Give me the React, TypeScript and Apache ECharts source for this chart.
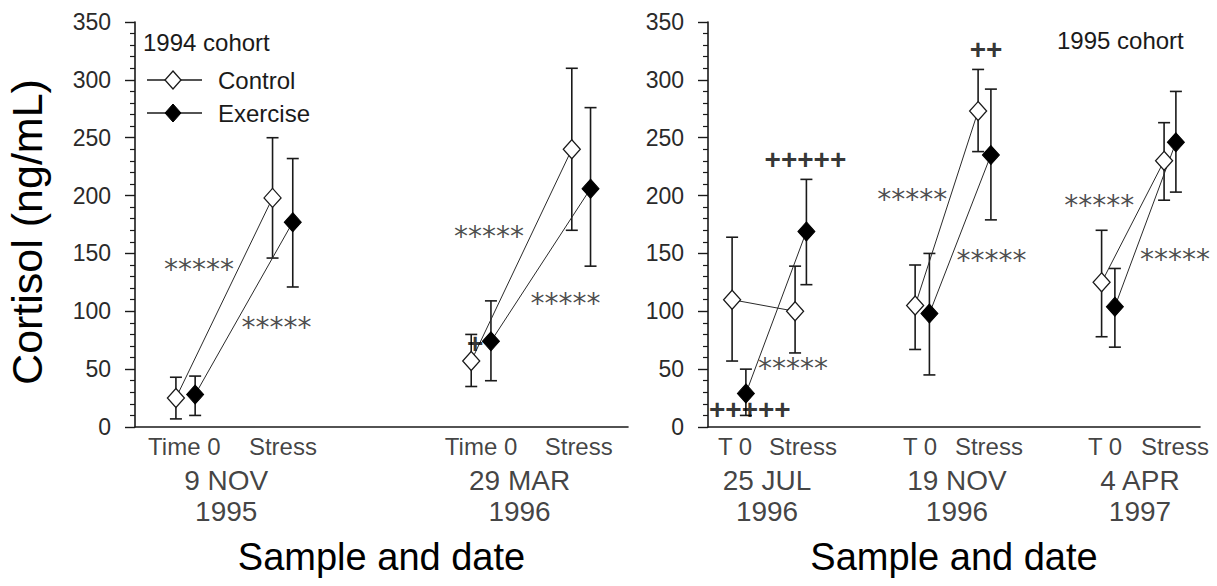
import React, { useEffect, useRef } from "react";
import * as echarts from "echarts";

// ---------- DATA ----------
// Left panel: 1994 cohort (order: G1 Time0, G1 Stress, G2 Time0, G2 Stress)
const leftControlX = [0.83, 2.79, 6.82, 8.86];
const leftExerciseX = [1.22, 3.2, 7.22, 9.24];
const leftControlMean = [25, 198, 57, 240];
const leftControlUpper = [43, 250, 80, 310];
const leftControlLower = [7, 146, 35, 170];
const leftExerciseMean = [28, 177, 74, 206];
const leftExerciseUpper = [44, 232, 109, 276];
const leftExerciseLower = [10, 121, 40, 139];

// Right panel: 1995 cohort (order: G1 T0, G1 Stress, G2 T0, G2 Stress, G3 T0, G3 Stress)
const rightControlX = [0.49, 1.77, 4.21, 5.49, 8.0, 9.27];
const rightExerciseX = [0.77, 2.0, 4.5, 5.75, 8.27, 9.51];
const rightControlMean = [110, 100, 105, 273, 125, 230];
const rightControlUpper = [164, 139, 140, 309, 170, 263];
const rightControlLower = [57, 64, 67, 238, 78, 196];
const rightExerciseMean = [29, 169, 98, 235, 104, 246];
const rightExerciseUpper = [50, 214, 150, 292, 137, 290];
const rightExerciseLower = [10, 123, 45, 179, 69, 203];

// Tick labels
const leftSampleLabels = ["Time 0", "Stress", "Time 0", "Stress"];
const leftSampleX = [1.0, 3.0, 7.02, 9.0];
const leftDateLabels = ["9 NOV\n1995", "29 MAR\n1996"];
const leftDateX = [1.85, 7.8];
const rightSampleLabels = ["T 0", "Stress", "T 0", "Stress", "T 0", "Stress"];
const rightSampleX = [0.55, 1.93, 4.31, 5.71, 8.07, 9.49];
const rightDateLabels = ["25 JUL\n1996", "19 NOV\n1996", "4 APR\n1997"];
const rightDateX = [1.2, 5.06, 8.78];

// Significance annotations [x, y, text]
const leftStars: [number, number, string][] = [
  [1.3, 141, "*****"],
  [2.87, 91, "*****"],
  [7.18, 170, "*****"],
  [8.73, 112, "*****"],
];
const leftPlus: [number, number, string][] = [[6.9, 72, "+"]];
const rightStars: [number, number, string][] = [
  [1.73, 56, "*****"],
  [4.15, 202, "*****"],
  [5.76, 149, "*****"],
  [7.95, 197, "*****"],
  [9.49, 150, "*****"],
];
const rightPlus: [number, number, string][] = [
  [1.98, 231, "+++++"],
  [0.85, 15, "+++++"],
  [5.65, 326, "++"],
];

const yTickValues = [0, 50, 100, 150, 200, 250, 300, 350];

const FONT = "Liberation Sans, Arial, sans-serif";
const INK = "#1a1a1a";

function labelSeries(gi: number, items: { value: number[]; name: string }[], label: any, z = 5) {
  return {
    type: "scatter",
    xAxisIndex: gi,
    yAxisIndex: gi,
    silent: true,
    clip: false,
    z,
    symbol: "circle",
    symbolSize: 1,
    itemStyle: { color: "rgba(0,0,0,0)" },
    data: items,
    label: { show: true, position: "inside", formatter: "{b}", ...label },
  };
}

function panelSeries(
  gi: number,
  cx: number[], cm: number[], cu: number[], cl: number[],
  ex: number[], em: number[], eu: number[], el: number[],
  sampleLabels: string[], sampleX: number[],
  dateLabels: string[], dateX: number[],
  stars: [number, number, string][], plus: [number, number, string][]
) {
  const series: any[] = [];
  const errData: any[] = [];
  cx.forEach((x, i) => errData.push([x, cm[i], cl[i], cu[i]]));
  ex.forEach((x, i) => errData.push([x, em[i], el[i], eu[i]]));
  series.push({
    type: "custom",
    xAxisIndex: gi,
    yAxisIndex: gi,
    z: 1,
    silent: true,
    clip: false,
    data: errData,
    renderItem: (params: any, api: any) => {
      const x = api.value(0);
      const lo = api.coord([x, api.value(2)]);
      const hi = api.coord([x, api.value(3)]);
      const h = 6;
      const st = { stroke: INK, lineWidth: 1.6 };
      return {
        type: "group",
        children: [
          { type: "line", shape: { x1: lo[0], y1: lo[1], x2: hi[0], y2: hi[1] }, style: st },
          { type: "line", shape: { x1: lo[0] - h, y1: lo[1], x2: lo[0] + h, y2: lo[1] }, style: st },
          { type: "line", shape: { x1: hi[0] - h, y1: hi[1], x2: hi[0] + h, y2: hi[1] }, style: st },
        ],
      };
    },
  });
  for (let i = 0; i < cx.length; i += 2) {
    series.push({
      type: "line",
      xAxisIndex: gi,
      yAxisIndex: gi,
      z: 3,
      silent: true,
      data: [[cx[i], cm[i]], [cx[i + 1], cm[i + 1]]],
      symbol: "diamond",
      symbolSize: [17, 19],
      lineStyle: { color: "#2a2a2a", width: 1 },
      itemStyle: { color: "#ffffff", borderColor: INK, borderWidth: 1.3 },
    });
    series.push({
      type: "line",
      xAxisIndex: gi,
      yAxisIndex: gi,
      z: 3,
      silent: true,
      data: [[ex[i], em[i]], [ex[i + 1], em[i + 1]]],
      symbol: "diamond",
      symbolSize: [17, 19],
      lineStyle: { color: "#2a2a2a", width: 1 },
      itemStyle: { color: "#000000", borderColor: "#000000", borderWidth: 1 },
    });
  }
  series.push(
    labelSeries(
      gi,
      sampleLabels.map((t, i) => ({ value: [sampleX[i], 0], name: t })),
      { offset: [0, 19], fontSize: 24, fontFamily: FONT, color: "#111" }
    )
  );
  series.push(
    labelSeries(
      gi,
      dateLabels.map((t, i) => ({ value: [dateX[i], 0], name: t })),
      { offset: [0, 69], fontSize: 28, lineHeight: 31, fontFamily: FONT, color: "#111" }
    )
  );
  series.push(
    labelSeries(
      gi,
      stars.map((s) => ({ value: [s[0], s[1]], name: s[2] })),
      { offset: [0, 6], fontSize: 28, fontFamily: "DejaVu Sans", color: "#1e1e1e" },
      6
    )
  );
  series.push(
    labelSeries(
      gi,
      plus.map((s) => ({ value: [s[0], s[1]], name: s[2] })),
      { offset: [0, 0], fontSize: 28, fontWeight: "bold", fontFamily: FONT, color: "#000000" },
      6
    )
  );
  return series;
}

function makeYAxis(gi: number) {
  return {
    type: "value",
    gridIndex: gi,
    min: yTickValues[0],
    max: yTickValues[yTickValues.length - 1],
    interval: yTickValues[1] - yTickValues[0],
    axisLine: { show: true, lineStyle: { color: INK, width: 1.6 } },
    axisTick: { show: true, length: 10, inside: false, lineStyle: { color: INK, width: 1.4 } },
    minorTick: { show: true, splitNumber: 5, length: 5, lineStyle: { color: INK, width: 1.2 } },
    splitLine: { show: false },
    axisLabel: { fontSize: 23, fontFamily: FONT, color: "#2a2a2a", margin: 24 },
  };
}

function makeXAxis(gi: number) {
  return {
    type: "value",
    gridIndex: gi,
    min: 0,
    max: 10,
    axisLine: { show: true, onZero: false, lineStyle: { color: INK, width: 1.6 } },
    axisTick: { show: false },
    axisLabel: { show: false },
    splitLine: { show: false },
    name: "Sample and date",
    nameLocation: "middle",
    nameGap: 111,
    nameTextStyle: { fontSize: 38, fontFamily: FONT, color: "#000000" },
  };
}

export default function App() {
  const ref = useRef<HTMLDivElement>(null);
  useEffect(() => {
    if (!ref.current) return;
    const chart = echarts.init(ref.current, undefined, { renderer: "svg" });
    const lx = 147, ldx = 173;
    const txt = (text: string, x: number, y: number, fontSize: number, extra: any = {}) => ({
      type: "text",
      x,
      y,
      ...extra,
      style: {
        text,
        fontSize,
        fontFamily: FONT,
        fill: INK,
        align: "left",
        verticalAlign: "middle",
        textAlign: "left",
        textVerticalAlign: "middle",
        ...(extra.style || {}),
      },
    });
    const option: any = {
      animation: false,
      backgroundColor: "#ffffff",
      grid: [
        { left: 135, top: 22, width: 493, height: 405, outerBoundsMode: "none", containLabel: false },
        { left: 708, top: 22, width: 492, height: 405, outerBoundsMode: "none", containLabel: false },
      ],
      xAxis: [makeXAxis(0), makeXAxis(1)],
      yAxis: [makeYAxis(0), makeYAxis(1)],
      series: [
        ...panelSeries(0, leftControlX, leftControlMean, leftControlUpper, leftControlLower,
          leftExerciseX, leftExerciseMean, leftExerciseUpper, leftExerciseLower,
          leftSampleLabels, leftSampleX, leftDateLabels, leftDateX, leftStars, leftPlus),
        ...panelSeries(1, rightControlX, rightControlMean, rightControlUpper, rightControlLower,
          rightExerciseX, rightExerciseMean, rightExerciseUpper, rightExerciseLower,
          rightSampleLabels, rightSampleX, rightDateLabels, rightDateX, rightStars, rightPlus),
      ],
      graphic: [
        {
          type: "text",
          x: 27,
          y: 232,
          rotation: Math.PI / 2,
          style: {
            text: "Cortisol (ng/mL)",
            fontSize: 43,
            fontFamily: FONT,
            fill: "#000000",
            align: "center",
            verticalAlign: "middle",
            textAlign: "center",
            textVerticalAlign: "middle",
          },
        },
        txt("1994 cohort", 143, 42, 24),
        txt("1995 cohort", 1057, 40, 24),
        { type: "line", shape: { x1: lx, y1: 80, x2: 202, y2: 80 }, style: { stroke: INK, lineWidth: 1.4 } },
        {
          type: "polygon",
          shape: { points: [[ldx, 71], [ldx + 8, 80], [ldx, 89], [ldx - 8, 80]] },
          style: { fill: "#ffffff", stroke: INK, lineWidth: 1.3 },
        },
        txt("Control", 218, 80, 24),
        { type: "line", shape: { x1: lx, y1: 113, x2: 202, y2: 113 }, style: { stroke: INK, lineWidth: 1.4 } },
        {
          type: "polygon",
          shape: { points: [[ldx, 104], [ldx + 8, 113], [ldx, 122], [ldx - 8, 113]] },
          style: { fill: "#000000", stroke: "#000000", lineWidth: 1 },
        },
        txt("Exercise", 218, 113, 24),
      ],
    };
    chart.setOption(option);
    return () => chart.dispose();
  }, []);
  return (
    <div
      ref={ref}
      style={{ position: "fixed", left: 0, top: 0, width: 1217, height: 586, background: "#fff" }}
    />
  );
}
